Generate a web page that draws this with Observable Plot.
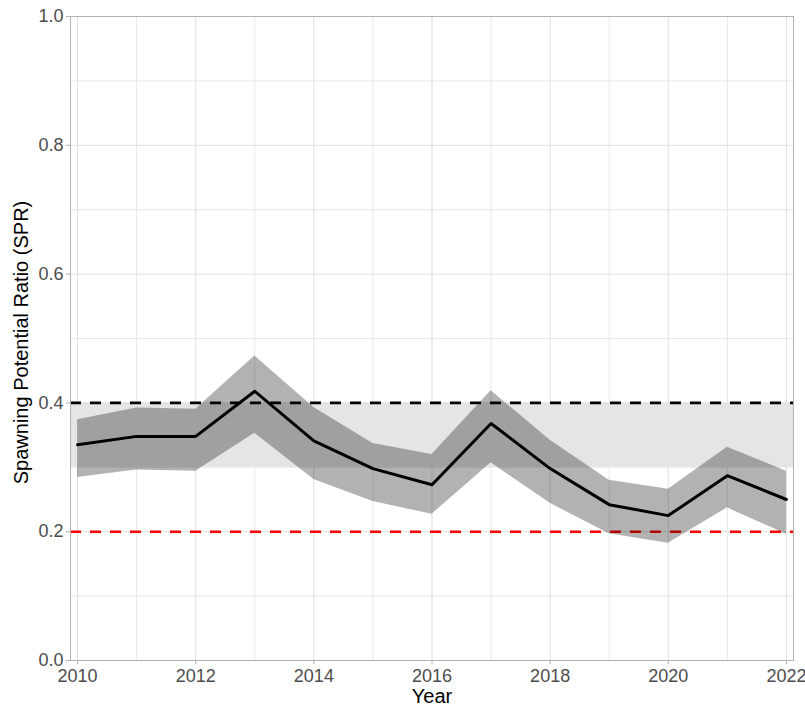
<!DOCTYPE html>
<html>
<head>
<meta charset="utf-8">
<script src="https://cdn.jsdelivr.net/npm/d3@7"></script>
<script src="https://cdn.jsdelivr.net/npm/@observablehq/plot@0.6"></script>
<style>
  html, body { margin: 0; padding: 0; background: #fff; overflow: hidden; }
  #chart svg { overflow: hidden; display: block; }
</style>
</head>
<body>
<div id="chart"></div>
<script>
// ---- data ----
const years = [2010, 2011, 2012, 2013, 2014, 2015, 2016, 2017, 2018, 2019, 2020, 2021, 2022];
const spr   = [0.335, 0.348, 0.348, 0.418, 0.341, 0.298, 0.273, 0.368, 0.298, 0.242, 0.225, 0.287, 0.250];
const upper = [0.374, 0.392, 0.390, 0.473, 0.393, 0.337, 0.320, 0.419, 0.342, 0.280, 0.266, 0.331, 0.294];
const lower = [0.284, 0.296, 0.294, 0.353, 0.281, 0.247, 0.227, 0.307, 0.244, 0.197, 0.182, 0.237, 0.196];

const targetBand = [{lo: 0.3, hi: 0.4}];
const targetRef = [0.4];
const limitRef = [0.2];

const xTicks = [2010, 2012, 2014, 2016, 2018, 2020, 2022];
const xMinor = [2011, 2013, 2015, 2017, 2019, 2021];
const yTicks = [0, 0.2, 0.4, 0.6, 0.8, 1.0];
const yMinor = [0.1, 0.3, 0.5, 0.7, 0.9];

const xTitle = "Year";
const yTitle = "Spawning Potential Ratio (SPR)";

const rows = years.map((y, i) => ({year: y, spr: spr[i], lo: lower[i], hi: upper[i]}));

const grid = "#dedede";
const border = "#b3b3b3";
const tickText = "#4d4d4d";

const chart = Plot.plot({
  width: 805,
  height: 710,
  marginLeft: 70,
  marginRight: 12,
  marginTop: 16,
  marginBottom: 50,
  style: {fontFamily: "'Liberation Sans', Arial, sans-serif", background: "#fff"},
  x: {domain: [2009.88, 2022.12]},
  y: {domain: [0, 1]},
  marks: [
    // grid
    Plot.ruleY(yMinor, {stroke: grid, strokeWidth: 0.7}),
    Plot.ruleX(xMinor, {stroke: grid, strokeWidth: 0.7}),
    Plot.ruleY(yTicks, {stroke: grid, strokeWidth: 1}),
    Plot.ruleX(xTicks, {stroke: grid, strokeWidth: 1}),
    // target band
    Plot.rect(targetBand, {y1: "lo", y2: "hi", fill: "#e5e5e5"}),
    // reference lines
    Plot.ruleY(targetRef, {stroke: "#000", strokeWidth: 2.6, strokeDasharray: "11,9"}),
    Plot.ruleY(limitRef, {stroke: "#ff0000", strokeWidth: 2.6, strokeDasharray: "11,9"}),
    // ribbon
    Plot.areaY(rows, {x: "year", y1: "lo", y2: "hi", fill: "#000", fillOpacity: 0.3}),
    // line
    Plot.lineY(rows, {x: "year", y: "spr", stroke: "#000", strokeWidth: 3}),
    // frame
    Plot.frame({stroke: border, strokeWidth: 1}),
    // axes
    Plot.axisX(xTicks, {tickSize: 4, tickPadding: 5, fontSize: 18, color: tickText, stroke: border, label: null, tickFormat: d => String(d)}),
    Plot.axisY(yTicks, {tickSize: 4, tickPadding: 3, fontSize: 18, color: tickText, stroke: border, label: null, tickFormat: d3.format(".1f")}),
    // titles
    Plot.text([xTitle], {frameAnchor: "bottom", textAnchor: "middle", lineAnchor: "top", dy: 28, fontSize: 20, fill: "#000"}),
    Plot.text([yTitle], {frameAnchor: "left", textAnchor: "middle", lineAnchor: "top", rotate: -90, dx: -57, dy: 4, fontSize: 20, fill: "#000"})
  ]
});

document.getElementById("chart").appendChild(chart);
</script>
</body>
</html>
